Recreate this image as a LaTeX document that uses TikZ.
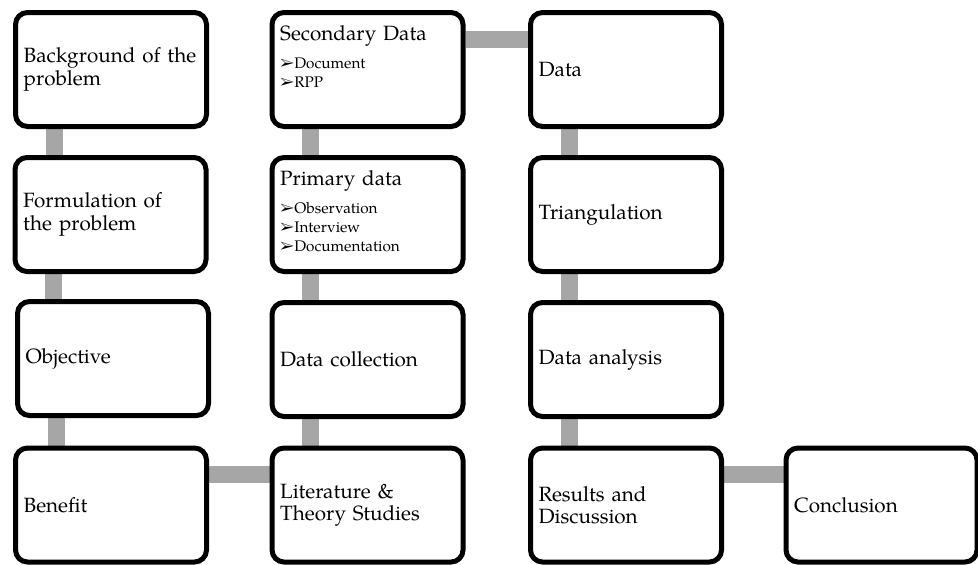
\documentclass[tikz,border=0pt]{standalone}
\usepackage{fontspec}
\setmainfont{TeX Gyre Pagella}
\usepackage{pifont}
\usetikzlibrary{backgrounds}
\definecolor{linkgray}{RGB}{166,166,166}
\newcommand{\itm}{\ding{226}}
\newcommand{\subtext}{\fontsize{11.5}{14.25}\selectfont}

\begin{document}
\begin{tikzpicture}[x=0.75pt, y=-0.75pt,
			box/.style = {shape=rectangle, rounded corners=9pt,
				draw, line width=3.75pt, fill=white,
				minimum width=143.25pt, minimum height=85.5pt,
				text width=131pt, inner xsep=6pt, align=left,
	font=\fontsize{15.5}{16.7}\selectfont},
			link/.style = {draw=linkgray, line width=12.75pt}]
	\useasboundingbox (0,0) rectangle (978,564);
	\node[box] (bg) at (111,69.5) {Background of the\\problem};
	\node[box] (fp) at (110.5,214.5) {Formulation of\\the problem};
	\node[box] (ob) at (113,358.5) {Objective};
	\node[box] (bn) at (111,505) {Benefit};
	\node[box] (sd) at (367.5,69.5) {\parbox[c][66pt][t]{131pt}{Secondary Data\par\vspace{6.75pt}
		{\subtext\itm Document\\\itm RPP\par}}};
	\node[box] (pd) at (367.5,214.5) {\parbox[c][66pt][t]{131pt}{Primary data\par\vspace{6.75pt}
		{\subtext\itm Observation\\\itm Interview\\\itm Documentation\par}}};
	\node[box] (dc) at (367.5,359.5) {Data collection};
	\node[box] (lt) at (367.5,505) {Literature \&\\Theory Studies};
	\node[box] (dt) at (626,69.5) {Data};
	\node[box] (tr) at (626,214.5) {Triangulation};
	\node[box] (da) at (626,359.5) {Data analysis};
	\node[box] (rd) at (626,505) {Results and\\Discussion};
	\node[box] (cl) at (881.5,505) {Conclusion};
	\begin{scope}[on background layer]
		\foreach \a/\b in {bg/fp, fp/ob, ob/bn, sd/pd, pd/dc, dc/lt, dt/tr, tr/da, da/rd}
			\draw[link] ([xshift=30.75pt]\a.south west) coordinate (p) -- (p |- \b.north);
		\foreach \a/\b in {bn/lt, sd/dt, rd/cl}
			\draw[link] ([yshift=-22pt]\a.north east) coordinate (p) -- (p -| \b.west);
	\end{scope}
\end{tikzpicture}
\end{document}
